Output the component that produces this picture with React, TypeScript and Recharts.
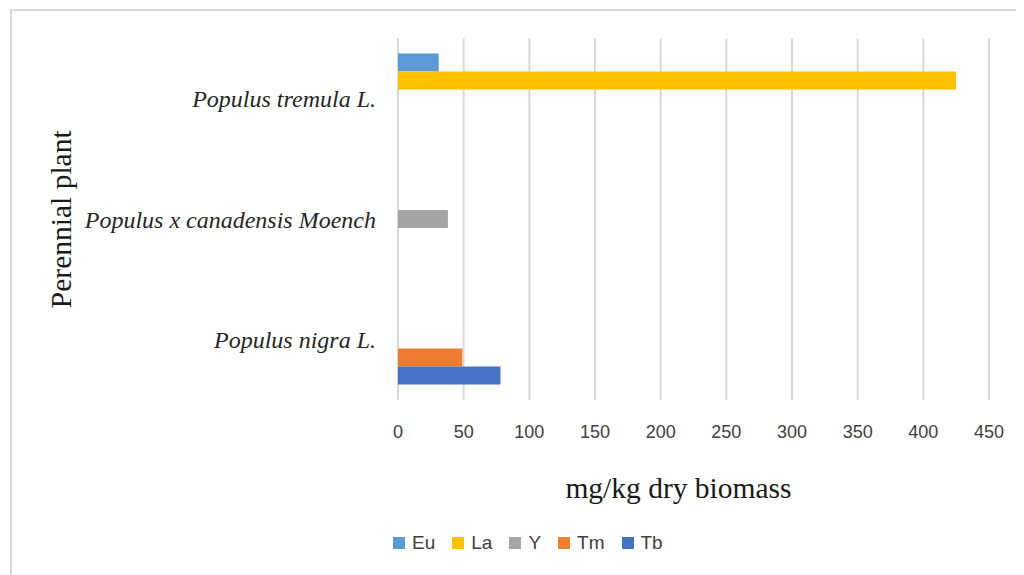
import { BarChart, Bar, XAxis, YAxis, CartesianGrid, Legend, Label } from "recharts";

const plants = ["Populus tremula L.", "Populus x canadensis Moench", "Populus nigra L."];
const euValues = [31, null, null];
const laValues = [425, null, null];
const yValues = [null, 38, null];
const tmValues = [null, null, 49];
const tbValues = [null, null, 78];
const xTicks = [0, 50, 100, 150, 200, 250, 300, 350, 400, 450];

const series = [
  { key: "Eu", color: "#5B9BD5" },
  { key: "La", color: "#FFC000" },
  { key: "Y", color: "#A5A5A5" },
  { key: "Tm", color: "#ED7D31" },
  { key: "Tb", color: "#4472C4" },
];

const data = plants.map((plant, i) => ({
  plant,
  Eu: euValues[i],
  La: laValues[i],
  Y: yValues[i],
  Tm: tmValues[i],
  Tb: tbValues[i],
}));

const sans = "'Liberation Sans', Arial, sans-serif";
const serif = "'Liberation Serif', 'Times New Roman', serif";

// legend kept in series order (recharts would sort it by name)
const renderLegend = () => (
  <div style={{ display: "flex", alignItems: "center", fontFamily: sans, fontSize: 19, color: "#404040", lineHeight: "24px" }}>
    {series.map(s => (
      <div key={s.key} style={{ display: "flex", alignItems: "center", marginRight: 17 }}>
        <span style={{ width: 12, height: 12, background: s.color, display: "inline-block", marginRight: 7 }} />
        <span>{s.key}</span>
      </div>
    ))}
  </div>
);

export default function App() {
  return (
    <div style={{ position: "relative", width: 1016, height: 567, overflow: "hidden", background: "#fff" }}>
      <div
        style={{
          position: "absolute",
          left: 2,
          top: 1,
          width: 1100,
          height: 700,
          borderTop: "2px solid #d9d9d9",
          borderLeft: "2px solid #d9d9d9",
        }}
      />
      <div style={{ position: "absolute", left: 0, top: 0 }}>
        <BarChart
          width={1016}
          height={567}
          data={data}
          layout="vertical"
          margin={{ top: 30.5, right: 35, left: 0, bottom: 60 }}
          barCategoryGap="12.5%"
          barGap={0}
        >
          <CartesianGrid horizontal={false} stroke="#d9d9d9" strokeWidth={2} />
          <XAxis
            type="number"
            domain={[0, 450]}
            ticks={xTicks}
            axisLine={false}
            tickLine={false}
            tickSize={0}
            tickMargin={25}
            height={115}
            tick={{ fontFamily: sans, fontSize: 18, fill: "#404040" }}
          >
            <Label
              value="mg/kg dry biomass"
              position="insideBottom"
              offset={17}
              dx={-15}
              style={{ fontFamily: serif, fontSize: 29.5, fill: "#1a1a1a" }}
            />
          </XAxis>
          <YAxis
            type="category"
            dataKey="plant"
            width={390}
            axisLine={false}
            tickLine={false}
            tickSize={0}
            tickMargin={22}
            tick={{ fontFamily: serif, fontStyle: "italic", fontSize: 24, fill: "#262626" }}
          >
            <Label
              value="Perennial plant"
              angle={-90}
              position="insideLeft"
              offset={53}
              style={{ fontFamily: serif, fontSize: 29.5, fill: "#1a1a1a", textAnchor: "middle" }}
            />
          </YAxis>
          <Legend
            layout="horizontal"
            verticalAlign="middle"
            align="center"
            content={renderLegend}
            wrapperStyle={{ top: 523, left: 385, width: "auto" }}
          />
          {series.map(s => (
            <Bar key={s.key} dataKey={s.key} name={s.key} fill={s.color} isAnimationActive={false} />
          ))}
        </BarChart>
      </div>
    </div>
  );
}
